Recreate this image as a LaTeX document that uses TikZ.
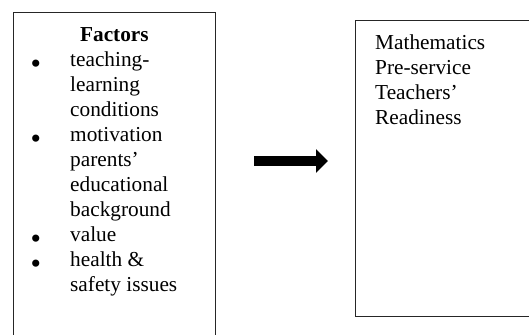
\documentclass[tikz,border=0pt]{standalone}
\usepackage{fontspec}
\setmainfont{Liberation Serif}
\usetikzlibrary{arrows.meta}
\tikzset{
  panel/.style={draw=black!85, line width=1pt, fill=white, anchor=north west, inner sep=0pt},
  txt/.style={anchor=base west, inner sep=0pt, font=\fontsize{21.3}{25}\selectfont},
  bigarrow/.style={draw=black, line width=10pt, -{Triangle[length=12pt, width=23pt]}}
}
\newcommand{\blt}{\smash{\raisebox{-0.31em}{\scalebox{1.4}{\textbullet}}}}

\begin{document}
\begin{tikzpicture}[x=1pt, y=-1pt]
  \useasboundingbox (0,0) rectangle (529,334);
  \clip (0,0) rectangle (529,334);
  % boxes
  \node[panel, minimum width=202.5pt, minimum height=335pt] (factorbox) at (12.5,12.5) {};
  \node[panel, minimum width=185pt, minimum height=296pt] (readybox) at (355,20) {};
  % left box text
  \node[txt, anchor=base, font=\fontsize{21.3}{25}\selectfont\bfseries] (factors) at (114.4,41.7) {Factors};
  \node[txt] (items) at (30.5,66.7) {%
    \begin{tabular}[t]{@{}p{39.5pt}@{}l@{}}
      \blt & teaching-\\
           & learning\\
           & conditions\\
      \blt & motivation\\
           & parents’\\
           & educational\\
           & background\\
      \blt & value\\
      \blt & health \&\\
           & safety issues
    \end{tabular}};
  % right box text
  \node[txt] (readiness) at (375,50) {%
    \begin{tabular}[t]{@{}l@{}}
      Mathematics\\
      Pre-service\\
      Teachers’\\
      Readiness
    \end{tabular}};
  % arrow
  \coordinate (arrowtail) at (254,161);
  \coordinate (arrowtip) at (328,161);
  \draw[bigarrow] (arrowtail) -- (arrowtip);
\end{tikzpicture}
\end{document}
